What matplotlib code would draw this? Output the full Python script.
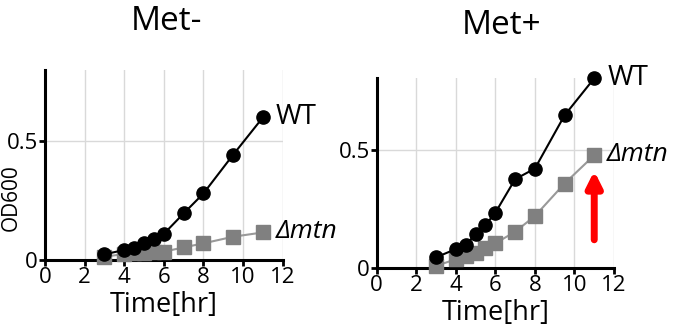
import matplotlib
matplotlib.use("Agg")
import matplotlib.pyplot as plt

plt.rcParams['font.family'] = ['Open Sans', 'DejaVu Sans']

time_minus = [3, 4, 4.5, 5, 5.5, 6, 7, 8, 9.5, 11]
wt_minus = [0.024, 0.042, 0.052, 0.07, 0.088, 0.11, 0.196, 0.28, 0.443, 0.60]
mtn_minus = [0.014, 0.025, 0.028, 0.031, 0.035, 0.035, 0.053, 0.07, 0.098, 0.116]

time_plus = [3, 4, 4.5, 5, 5.5, 6, 7, 8, 9.5, 11]
wt_plus = [0.046, 0.081, 0.098, 0.144, 0.182, 0.234, 0.375, 0.42, 0.644, 0.80]
mtn_plus = [0.01, 0.038, 0.052, 0.066, 0.084, 0.105, 0.154, 0.22, 0.357, 0.476]

titles = ["Met-", "Met+"]
xticks = [0, 2, 4, 6, 8, 10, 12]
yticks = [0, 0.5]
ytick_labels = ["0", "0.5"]
series_labels = ["WT", "\u0394mtn"]

fig = plt.figure(figsize=(6.83, 3.36), dpi=100)
ax1 = fig.add_axes([0.0659, 0.2262, 0.3479, 0.5655])
ax2 = fig.add_axes([0.5515, 0.2015, 0.3475, 0.5655])

def style(ax):
    ax.set_xlim(0, 12)
    ax.set_ylim(0, 0.8)
    ax.set_xticks(xticks)
    ax.set_yticks(yticks)
    ax.set_yticklabels(ytick_labels)
    ax.grid(True, color='#d9d9d9', linewidth=1.0)
    ax.set_axisbelow(True)
    for s in ['top', 'right']:
        ax.spines[s].set_visible(False)
    for s in ['left', 'bottom']:
        ax.spines[s].set_linewidth(2.2)
        ax.spines[s].set_color('black')
    ax.tick_params(axis='both', direction='out', length=4, width=2, labelsize=16, pad=1)
    ax.set_xlabel("Time[hr]", fontsize=19.5, labelpad=2)

for ax, t, wt, mtn, title in [(ax1, time_minus, wt_minus, mtn_minus, titles[0]),
                              (ax2, time_plus, wt_plus, mtn_plus, titles[1])]:
    style(ax)
    ax.plot(t, mtn, color='#999999', linewidth=1.5, marker='s', markersize=9.5,
            markerfacecolor='#808080', markeredgecolor='#808080', clip_on=False, zorder=3)
    ax.plot(t, wt, color='black', linewidth=1.5, marker='o', markersize=9.5,
            markerfacecolor='black', markeredgecolor='black', clip_on=False, zorder=4)
    ax.text(t[-1] + 0.65, wt[-1], series_labels[0], fontsize=20, va='center', ha='left')
    ax.text(t[-1] + 0.65, mtn[-1] + 0.005, series_labels[1], fontsize=19, va='center',
            ha='left', style='italic')

ax1.set_ylabel("OD600", fontsize=15)
ax1.yaxis.set_label_coords(-0.097, 0.33)
fig.text(167/683, 1 - 22/336, titles[0], fontsize=24, ha='center', va='center')
fig.text(502/683, 1 - 25/336, titles[1], fontsize=24, ha='center', va='center')

ax2.annotate("", xy=(11, 0.41), xytext=(11, 0.12),
             arrowprops=dict(arrowstyle='-|>,head_width=0.45,head_length=0.9',
                             color='red', linewidth=5, shrinkA=0, shrinkB=0))

fig.savefig("out.png", dpi=100)
